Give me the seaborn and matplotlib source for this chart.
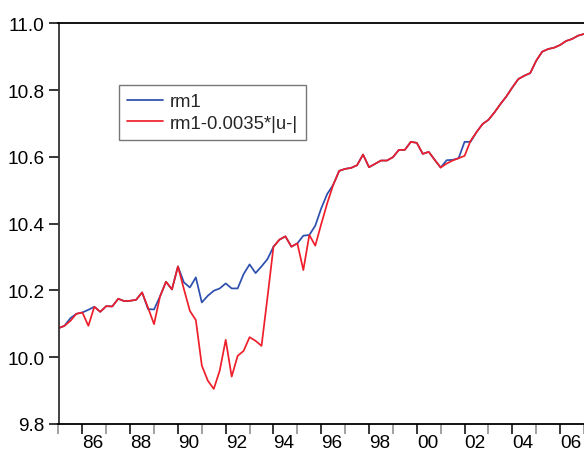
import numpy as np
import pandas as pd
import matplotlib
matplotlib.use("Agg")
import matplotlib.pyplot as plt
import seaborn as sns
from matplotlib.lines import Line2D

# ---- data (quarterly, 1985Q1 .. 2007Q1) ----
start_year = 1985
rm1 = [
    10.087, 10.094, 10.117, 10.130,
    10.134, 10.142, 10.151, 10.136,
    10.153, 10.152, 10.175, 10.168,
    10.169, 10.172, 10.194, 10.144,
    10.143, 10.182, 10.226, 10.203,
    10.272, 10.224, 10.209, 10.239,
    10.164, 10.184, 10.199, 10.206,
    10.221, 10.206, 10.206, 10.249,
    10.278, 10.252, 10.272, 10.294,
    10.331, 10.352, 10.362, 10.331,
    10.341, 10.364, 10.366, 10.394,
    10.446, 10.489, 10.516, 10.558,
    10.564, 10.567, 10.575, 10.607,
    10.569, 10.579, 10.589, 10.589,
    10.599, 10.621, 10.621, 10.645,
    10.642, 10.609, 10.615, 10.591,
    10.568, 10.590, 10.591, 10.596,
    10.645, 10.645, 10.674, 10.698,
    10.711, 10.733, 10.758, 10.781,
    10.808, 10.833, 10.843, 10.851,
    10.888, 10.915, 10.923, 10.927,
    10.935, 10.947, 10.953, 10.963,
    10.968,
]
rm1_adj = [
    10.087, 10.094, 10.109, 10.130,
    10.134, 10.094, 10.151, 10.136,
    10.153, 10.152, 10.175, 10.168,
    10.169, 10.172, 10.194, 10.148,
    10.099, 10.182, 10.226, 10.203,
    10.272, 10.204, 10.139, 10.111,
    9.975, 9.930, 9.905, 9.960,
    10.052, 9.942, 10.004, 10.019,
    10.060, 10.049, 10.034, 10.180,
    10.331, 10.352, 10.362, 10.331,
    10.341, 10.261, 10.366, 10.334,
    10.399, 10.461, 10.516, 10.558,
    10.564, 10.567, 10.575, 10.607,
    10.569, 10.579, 10.589, 10.589,
    10.599, 10.621, 10.621, 10.645,
    10.642, 10.609, 10.615, 10.591,
    10.568, 10.580, 10.589, 10.596,
    10.603, 10.648, 10.674, 10.698,
    10.711, 10.733, 10.758, 10.781,
    10.808, 10.833, 10.843, 10.851,
    10.888, 10.915, 10.923, 10.927,
    10.935, 10.947, 10.953, 10.963,
    10.968,
]
series_names = ["rm1", "rm1-0.0035*|u-|"]
series_colors = ["#2d4fae", "#ee1f2b"]
ytick_vals = [9.8, 10.0, 10.2, 10.4, 10.6, 10.8, 11.0]
label_years = list(range(1986, 2007, 2))
label_texts = ["86", "88", "90", "92", "94", "96", "98", "00", "02", "04", "06"]
odd_years = list(range(1985, 2008, 2))

t = start_year + np.arange(len(rm1)) * 0.25
df = pd.DataFrame({
    "t": np.concatenate([t, t]),
    "value": np.concatenate([rm1, rm1_adj]),
    "series": [series_names[0]] * len(rm1) + [series_names[1]] * len(rm1_adj),
})

sns.set_style("white")
plt.rcParams["font.family"] = ["Liberation Sans", "DejaVu Sans"]

fig = plt.figure(figsize=(5.84, 4.52), dpi=100)
ax = fig.add_axes([58.5 / 584, 27 / 452, 1 - 58.5 / 584, (425 - 24.3) / 452])

sns.lineplot(data=df, x="t", y="value", hue="series", hue_order=series_names,
             palette=series_colors, linewidth=1.25, ax=ax, legend=False)

ax.set_xlim(1985, 2007)
ax.set_ylim(9.8, 11.0)
ax.set_xlabel("")
ax.set_ylabel("")

ax.set_yticks(ytick_vals)
ax.set_yticklabels([f"{v:.1f}" for v in ytick_vals])
ax.set_xticks(label_years)
ax.set_xticklabels(label_texts, ha="left")
ax.set_xticks(odd_years, minor=True)

ax.tick_params(axis="both", which="major", direction="out", length=7, width=1.1,
               color="black", labelsize=13.7, labelcolor="black")
ax.tick_params(axis="y", which="major", pad=3, left=True)
ax.tick_params(axis="x", which="major", pad=0.5, bottom=True)
ax.tick_params(axis="x", which="minor", direction="out", length=7, width=1.1,
               color="#888888", bottom=True)

for side in ["left", "bottom", "top"]:
    ax.spines[side].set_visible(True)
    ax.spines[side].set_color("black")
    ax.spines[side].set_linewidth(1.3)
ax.spines["left"].set_color("#333333")
ax.spines["right"].set_visible(False)

handles = [Line2D([], [], color=c, linewidth=1.25) for c in series_colors]
leg = ax.legend(handles, series_names, loc="upper left",
                bbox_to_anchor=(119 / 584, 1 - 85.7 / 452), bbox_transform=fig.transFigure,
                borderaxespad=0, fontsize=13.3, frameon=True, fancybox=False,
                handlelength=1.95, handletextpad=0.35, labelspacing=0.25,
                borderpad=0.45)
leg.get_frame().set_edgecolor("#555555")
leg.get_frame().set_linewidth(1.0)

fig.savefig("out.png", dpi=100)
